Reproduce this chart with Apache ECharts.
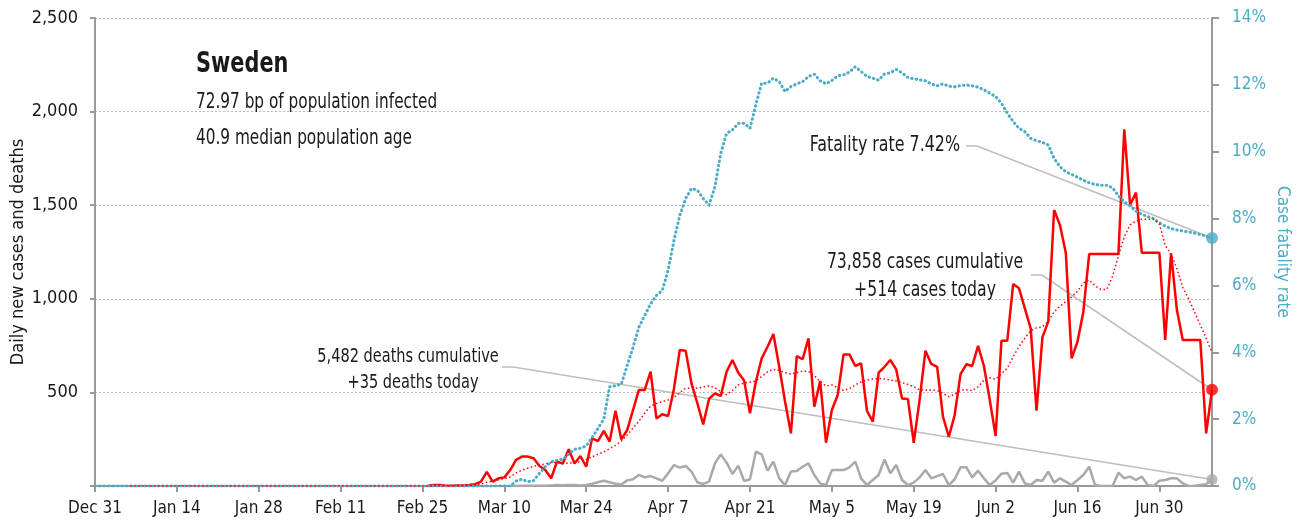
<!DOCTYPE html>
<html>
<head>
<meta charset="utf-8">
<script src="https://cdn.jsdelivr.net/npm/echarts@6/dist/echarts.min.js"></script>
<style>
    html, body { margin: 0; padding: 0; background: #fff; }
    #chart { width: 1312px; height: 524px; }
</style>
</head>
<body>
<div id="chart"></div>
<script>
    var FONT = "'DejaVu Sans Condensed', 'Liberation Sans Narrow', 'Roboto', sans-serif";
    var BLUE = '#4bacc6', RED = '#ff0000', GREY = '#a9a9a9', INK = '#1a1a1a';

    // x axis: one category per day, Dec 31 .. Jul 9
    var monthNames = ['Jan','Feb','Mar','Apr','May','Jun','Jul','Aug','Sep','Oct','Nov','Dec'];
    var tickLabels = ['Dec 31','Jan 14','Jan 28','Feb 11','Feb 25','Mar 10','Mar 24','Apr 7','Apr 21','May 5','May 19','Jun 2','Jun 16','Jun 30'];
    var dayCount = 192;
    var days = [];
    for (var i = 0; i < dayCount; i++) {
        var d = new Date(2019, 11, 31 + i);
        days.push(monthNames[d.getMonth()] + ' ' + d.getDate());
    }

    // daily new cases, from Feb 26 (day 57)
    var casesStart = 57;
    var cases = [
        1, 5, 6, 2, 1, 3, 3,
        5, 10, 23, 76, 23, 41, 46,
        85, 140, 157, 157, 148, 107, 85,
        41, 130, 120, 196, 120, 160, 103,
        255, 240, 294, 237, 402, 249, 299,
        406, 513, 513, 611, 361, 383, 374,
        520, 727, 723, 548, 442, 329, 465,
        495, 481, 611, 673, 605, 563, 388,
        557, 682, 744, 812, 637, 450, 281,
        694, 677, 789, 424, 561, 231, 406,
        486, 703, 703, 641, 655, 402, 344,
        605, 637, 673, 623, 468, 465, 231,
        459, 723, 652, 637, 370, 263, 379,
        598, 650, 641, 748, 641, 460, 267,
        776, 776, 1079, 1056, 949, 842, 402,
        794, 878, 1474, 1394, 1246, 682, 771,
        931, 1239, 1239, 1239, 1239, 1239, 1239,
        1905, 1501, 1567, 1246, 1246, 1246, 1246,
        780, 1243, 940, 780, 780, 780, 780,
        281, 514
    ];

    // 7-day average of cases, flat at 0 from Jan 6 (day 6) to Feb 25
    var avgStart = 6, avgFlatUntil = 57;
    var casesAvg = [
        1, 1, 2, 2, 2, 3, 3,
        3, 5, 10, 20, 25, 33, 40,
        48, 70, 85, 95, 105, 112, 118,
        125, 125, 120, 122, 125, 130, 142,
        155, 170, 182, 200, 217, 240, 273,
        310, 345, 390, 427, 440, 450, 460,
        474, 500, 522, 523, 523, 528, 534,
        525, 504, 488, 510, 540, 550, 555,
        561, 585, 610, 623, 618, 605, 598,
        605, 614, 612, 590, 557, 535, 540,
        525, 510, 520, 540, 556, 566, 572,
        575, 572, 566, 561, 552, 543, 530,
        513, 513, 513, 510, 495, 477, 490,
        512, 514, 509, 530, 565, 578, 570,
        600, 630, 690, 745, 790, 830, 845,
        850, 880, 930, 960, 985, 1010, 1040,
        1085, 1100, 1070, 1050, 1050, 1120, 1230,
        1330, 1395, 1415, 1425, 1425, 1425, 1400,
        1285, 1240, 1160, 1060, 1000, 930, 860,
        790, 712
    ];

    // daily new deaths, from Mar 11 (day 71)
    var deathsStart = 71;
    var deaths = [
        1, 0, 1, 2, 1, 2, 1,
        3, 5, 4, 6, 5, 3, 5,
        12, 20, 28, 20, 12, 8, 30,
        36, 59, 46, 53, 41, 28, 68,
        112, 98, 107, 77, 20, 11, 23,
        121, 169, 125, 64, 109, 27, 36,
        183, 169, 82, 130, 41, 5, 77,
        80, 103, 121, 59, 14, 5, 85,
        85, 85, 100, 130, 41, 5, 32,
        59, 142, 68, 112, 32, 5, 18,
        46, 85, 41, 53, 64, 5, 36,
        100, 100, 46, 82, 41, 5, 30,
        66, 70, 18, 77, 14, 5, 32,
        28, 77, 18, 41, 23, 5, 32,
        59, 103, 5, 0, 0, 0, 71,
        41, 50, 32, 50, 5, 0, 28,
        32, 41, 41, 14, 0, 2, 5,
        10, 35
    ];

    // case fatality rate (%), 0 until Mar 12, values from Mar 12 (day 72)
    var cfrStart = 72;
    var cfr = [
        0.15, 0.2, 0.13, 0.16, 0.38, 0.58,
        0.72, 0.77, 0.8, 0.95, 1.1, 1.13, 1.2,
        1.45, 1.72, 2.0, 2.97, 3.0, 3.05, 3.6,
        4.15, 4.75, 5.1, 5.45, 5.7, 5.85, 6.45,
        7.35, 8.1, 8.6, 8.9, 8.85, 8.6, 8.4,
        8.95, 9.95, 10.55, 10.65, 10.85, 10.85, 10.7,
        11.4, 12.05, 12.05, 12.2, 12.1, 11.8, 11.95,
        12.03, 12.1, 12.25, 12.32, 12.12, 12.03, 12.13,
        12.27, 12.3, 12.38, 12.54, 12.4, 12.25, 12.2,
        12.14, 12.33, 12.36, 12.46, 12.36, 12.22, 12.18,
        12.15, 12.12, 12.03, 11.97, 12.03, 11.96, 11.94,
        11.98, 12.0, 11.97, 11.93, 11.85, 11.75, 11.65,
        11.45, 11.15, 10.9, 10.7, 10.6, 10.4, 10.33,
        10.28, 10.2, 9.8, 9.55, 9.4, 9.32, 9.24,
        9.15, 9.07, 9.02, 9.0, 9.0, 8.92, 8.68,
        8.5, 8.38, 8.22, 8.13, 8.06, 8.0, 7.88,
        7.77, 7.7, 7.66, 7.63, 7.6, 7.57, 7.52,
        7.47, 7.42
    ];

    var infoLines = ['72.97 bp of population infected', '40.9 median population age'];
    var casesCumulative = '73,858', deathsCumulative = '5,482', fatalityRate = '7.42%';

    function pad(n, v) { var a = []; for (var k = 0; k < n; k++) a.push(v); return a; }

    var casesData = pad(casesStart, null).concat(cases);
    var avgData = pad(avgStart, null).concat(pad(avgFlatUntil - avgStart, 0)).concat(casesAvg);
    var deathsData = pad(deathsStart, null).concat(deaths);
    var cfrData = pad(cfrStart, 0).concat(cfr);
    var last = dayCount - 1;

    var myChart = echarts.init(document.getElementById('chart'));
    var option = {
        animation: false,
        textStyle: { fontFamily: FONT },
        grid: { left: 95, right: 100, top: 18, bottom: 38, outerBoundsMode: 'none', containLabel: false },
        xAxis: {
            type: 'category',
            data: days,
            boundaryGap: false,
            axisLine: { lineStyle: { color: '#999', width: 2 } },
            axisTick: { interval: 13, length: 6, lineStyle: { color: '#999', width: 2 } },
            axisLabel: {
                interval: 13, margin: 14, fontSize: 17, color: INK, fontFamily: FONT,
                formatter: function (v) { return tickLabels.indexOf(v) >= 0 ? v : ''; }
            }
        },
        yAxis: [
            {
                type: 'value', min: 0, max: 2500, interval: 500,
                name: 'Daily new cases and deaths',
                nameLocation: 'middle', nameGap: 68, nameRotate: 90, nameMoveOverlap: false,
                nameTextStyle: { fontSize: 18, color: INK, fontFamily: FONT },
                axisLine: { show: true, lineStyle: { color: '#999', width: 2 } },
                axisTick: { show: true, length: 5, lineStyle: { color: '#999', width: 2 } },
                axisLabel: {
                    margin: 17, fontSize: 18, color: INK, fontFamily: FONT,
                    formatter: function (v) { return v === 0 ? '' : v.toLocaleString('en-US'); }
                },
                splitLine: { lineStyle: { type: [2, 2], color: '#bbb', width: 1 } }
            },
            {
                type: 'value', min: 0, max: 14, interval: 2, position: 'right',
                name: 'Case fatality rate',
                nameLocation: 'middle', nameGap: 62, nameRotate: -90, nameMoveOverlap: false,
                nameTextStyle: { fontSize: 17, color: BLUE, fontFamily: FONT },
                axisLine: { show: true, lineStyle: { color: '#999', width: 2 } },
                axisTick: { show: true, length: 7, lineStyle: { color: '#999', width: 2 } },
                axisLabel: { margin: 20, fontSize: 17, color: BLUE, fontFamily: FONT, formatter: '{value}%' },
                splitLine: { show: false }
            }
        ],
        series: [
            {
                name: 'cases', type: 'line', data: casesData, symbol: 'none',
                lineStyle: { color: RED, width: 2.5 }, z: 3
            },
            {
                name: 'cases avg', type: 'line', data: avgData, symbol: 'none',
                lineStyle: { color: RED, width: 1.5, type: [1.5, 2.5] }, z: 6
            },
            {
                name: 'deaths', type: 'line', data: deathsData, symbol: 'none',
                lineStyle: { color: GREY, width: 2.5 }, z: 2
            },
            {
                name: 'cfr', type: 'line', data: cfrData, yAxisIndex: 1, symbol: 'none',
                lineStyle: { color: BLUE, width: 3, type: [0.5, 4], cap: 'round' }, z: 5
            },
            {
                type: 'scatter', yAxisIndex: 1, symbolSize: 12, z: 7,
                itemStyle: { color: BLUE },
                data: [[last, cfr[cfr.length - 1]]]
            },
            {
                type: 'scatter', symbolSize: 12, z: 7,
                itemStyle: { color: RED },
                data: [[last, cases[cases.length - 1]]]
            },
            {
                type: 'scatter', symbolSize: 11, z: 7,
                itemStyle: { color: GREY },
                data: [[last, deaths[deaths.length - 1]]]
            }
        ]
    };
    myChart.setOption(option);

    // annotations with leader lines to the end points
    var pBlue = myChart.convertToPixel({ seriesIndex: 4 }, [last, cfr[cfr.length - 1]]);
    var pRed = myChart.convertToPixel({ seriesIndex: 5 }, [last, cases[cases.length - 1]]);
    var pGrey = myChart.convertToPixel({ seriesIndex: 6 }, [last, deaths[deaths.length - 1]]);

    // condensed look: DejaVu Sans Condensed squeezed horizontally
    function txt(s, x, y, align, size, weight, sx) {
        return {
            type: 'text', z: 10, x: x, y: y, scaleX: sx || 0.81,
            style: {
                text: s, x: 0, y: 0, fill: INK, fontSize: size || 21, fontWeight: weight || 'normal',
                fontFamily: FONT, textAlign: align || 'left', textVerticalAlign: 'middle'
            }
        };
    }
    function leader(x1, x2, y, p) {
        return {
            type: 'polyline', z: 1,
            shape: { points: [[x1, y], [x2, y], [p[0], p[1]]] },
            style: { stroke: '#bdbdbd', lineWidth: 1.6, fill: null }
        };
    }

    myChart.setOption({
        graphic: [
            txt('Sweden', 196, 64, 'left', 29, 'bold', 0.8),
            txt(infoLines[0], 196, 103, 'left', 21),
            txt(infoLines[1], 196, 139, 'left', 21),
            txt('Fatality rate ' + fatalityRate, 960, 146, 'right', 21, 'normal', 0.84),
            leader(966, 977, 146, pBlue),
            txt(casesCumulative + ' cases cumulative', 925, 263, 'center', 21, 'normal', 0.83),
            txt('+' + cases[cases.length - 1] + ' cases today', 925, 291, 'center', 21, 'normal', 0.83),
            leader(1031, 1042, 275, pRed),
            txt(deathsCumulative + ' deaths cumulative', 408, 357, 'center', 19.5, 'normal', 0.83),
            txt('+' + deaths[deaths.length - 1] + ' deaths today', 413, 383, 'center', 19.5, 'normal', 0.83),
            leader(502, 513, 367, pGrey)
        ]
    });
</script>
</body>
</html>
